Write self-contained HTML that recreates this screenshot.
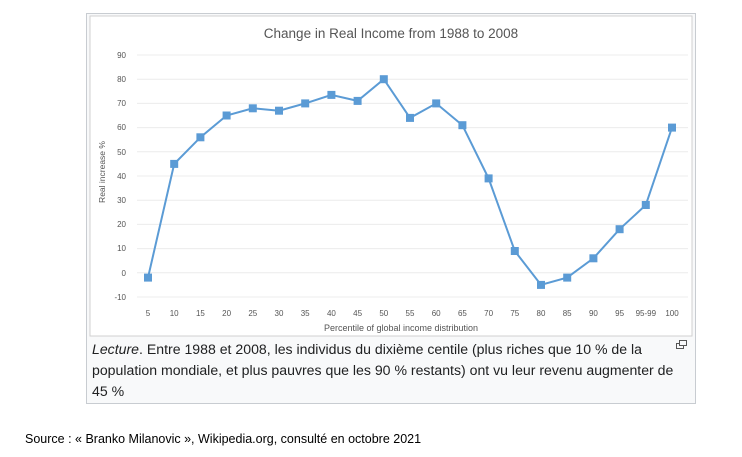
<!DOCTYPE html>
<html><head><meta charset="utf-8"><style>
body{margin:0;width:742px;height:457px;background:#fff;overflow:hidden;font-family:"Liberation Sans",sans-serif;}
.outer{position:absolute;left:86px;top:13px;width:610px;height:391px;background:#f8f9fa;border:1px solid #c8ccd1;box-sizing:border-box;}
.cap{position:absolute;left:92px;top:339px;width:585px;font-size:14.1px;line-height:21px;color:#202122;}
.src{position:absolute;left:25px;top:432px;font-size:12.5px;color:#000;}
</style></head><body>
<div class="outer"></div>
<svg style="position:absolute;left:0;top:0" width="742" height="457">
<rect x="90" y="16" width="602" height="320" fill="#fff" stroke="#d0d0d0"/>
<text x="391" y="38" text-anchor="middle" font-family="Liberation Sans" font-size="13.5" fill="#555">Change in Real Income from 1988 to 2008</text>
<g stroke="#ececec" stroke-width="1">
<line x1="137" x2="688" y1="55" y2="55"/><line x1="137" x2="688" y1="79.2" y2="79.2"/><line x1="137" x2="688" y1="103.4" y2="103.4"/><line x1="137" x2="688" y1="127.6" y2="127.6"/><line x1="137" x2="688" y1="151.8" y2="151.8"/><line x1="137" x2="688" y1="176" y2="176"/><line x1="137" x2="688" y1="200.2" y2="200.2"/><line x1="137" x2="688" y1="224.4" y2="224.4"/><line x1="137" x2="688" y1="248.6" y2="248.6"/><line x1="137" x2="688" y1="272.8" y2="272.8"/><line x1="137" x2="688" y1="297" y2="297"/>
</g>
<g font-family="Liberation Sans" font-size="8" fill="#555" text-anchor="end">
<text x="126" y="58">90</text><text x="126" y="82">80</text><text x="126" y="106">70</text><text x="126" y="130">60</text><text x="126" y="155">50</text><text x="126" y="179">40</text><text x="126" y="203">30</text><text x="126" y="227">20</text><text x="126" y="251">10</text><text x="126" y="276">0</text><text x="126" y="300">-10</text>
</g>
<text transform="translate(105,172) rotate(-90)" text-anchor="middle" font-family="Liberation Sans" font-size="8.5" fill="#555">Real increase %</text>
<g font-family="Liberation Sans" font-size="8" fill="#555" text-anchor="middle">
<text x="148" y="316">5</text><text x="174.2" y="316">10</text><text x="200.4" y="316">15</text><text x="226.6" y="316">20</text><text x="252.8" y="316">25</text><text x="279" y="316">30</text><text x="305.2" y="316">35</text><text x="331.4" y="316">40</text><text x="357.6" y="316">45</text><text x="383.8" y="316">50</text><text x="410" y="316">55</text><text x="436.2" y="316">60</text><text x="462.4" y="316">65</text><text x="488.6" y="316">70</text><text x="514.8" y="316">75</text><text x="541" y="316">80</text><text x="567.2" y="316">85</text><text x="593.4" y="316">90</text><text x="619.6" y="316">95</text><text x="645.8" y="316">95-99</text><text x="672" y="316">100</text>
</g>
<text x="401" y="331" text-anchor="middle" font-family="Liberation Sans" font-size="9" fill="#555">Percentile of global income distribution</text>
<polyline fill="none" stroke="#5b9bd5" stroke-width="2" points="148,277.6 174.2,163.9 200.4,137.3 226.6,115.5 252.8,108.3 279,110.7 305.2,103.4 331.4,94.9 357.6,100.9 383.8,79.2 410,117.9 436.2,103.4 462.4,125.2 488.6,178.4 514.8,251 541,284.9 567.2,277.6 593.4,258.3 619.6,229.2 645.8,205 672,127.6"/>
<g fill="#5b9bd5">
<rect x="144" y="273.6" width="8" height="8"/><rect x="170.2" y="159.9" width="8" height="8"/><rect x="196.4" y="133.3" width="8" height="8"/><rect x="222.6" y="111.5" width="8" height="8"/><rect x="248.8" y="104.3" width="8" height="8"/><rect x="275" y="106.7" width="8" height="8"/><rect x="301.2" y="99.4" width="8" height="8"/><rect x="327.4" y="90.9" width="8" height="8"/><rect x="353.6" y="96.9" width="8" height="8"/><rect x="379.8" y="75.2" width="8" height="8"/><rect x="406" y="113.9" width="8" height="8"/><rect x="432.2" y="99.4" width="8" height="8"/><rect x="458.4" y="121.2" width="8" height="8"/><rect x="484.6" y="174.4" width="8" height="8"/><rect x="510.8" y="247" width="8" height="8"/><rect x="537" y="280.9" width="8" height="8"/><rect x="563.2" y="273.6" width="8" height="8"/><rect x="589.4" y="254.3" width="8" height="8"/><rect x="615.6" y="225.2" width="8" height="8"/><rect x="641.8" y="201" width="8" height="8"/><rect x="668" y="123.6" width="8" height="8"/>
</g>
<g fill="none" stroke="#555" stroke-width="1"><rect x="676.5" y="343.5" width="7" height="5"/><rect x="679.5" y="340.5" width="7" height="5" fill="#f8f9fa"/></g>
</svg>
<div class="cap"><i>Lecture</i>. Entre 1988 et 2008, les individus du dixième centile (plus riches que 10 % de la population mondiale, et plus pauvres que les 90 % restants) ont vu leur revenu augmenter de 45 %</div>
<div class="src">Source : « Branko Milanovic », Wikipedia.org, consulté en octobre 2021</div>
</body></html>
